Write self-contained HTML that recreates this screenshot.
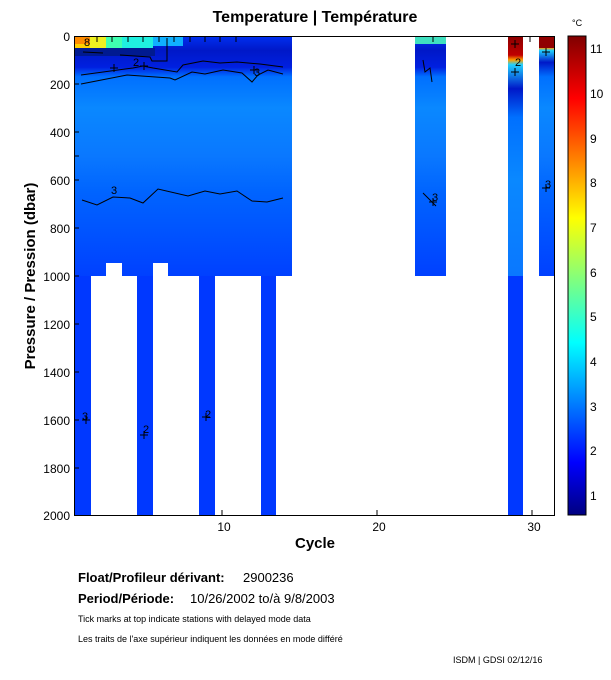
<!DOCTYPE html>
<html><head><meta charset="utf-8"><style>
body{margin:0;background:#fff;width:611px;height:675px;overflow:hidden;font-family:"Liberation Sans",sans-serif}
</style></head><body>
<svg width="611" height="675" xmlns="http://www.w3.org/2000/svg" font-family="Liberation Sans, sans-serif">
<defs>
<linearGradient id="col" x1="0" y1="0" x2="0" y2="1">
<stop offset="0" stop-color="#0030f0"/>
<stop offset="0.06" stop-color="#0018c8"/>
<stop offset="0.13" stop-color="#0020e0"/>
<stop offset="0.17" stop-color="#0070ff"/>
<stop offset="0.3" stop-color="#0a88ff"/>
<stop offset="0.5" stop-color="#0a78ff"/>
<stop offset="0.65" stop-color="#0064ff"/>
<stop offset="0.85" stop-color="#0050ff"/>
<stop offset="1" stop-color="#0040ff"/>
</linearGradient>
<linearGradient id="warm" x1="0" y1="0" x2="0" y2="1">
<stop offset="0" stop-color="#8a0000"/>
<stop offset="0.04" stop-color="#c00000"/>
<stop offset="0.05" stop-color="#ffa000"/>
<stop offset="0.06" stop-color="#20d0ff"/>
<stop offset="0.11" stop-color="#0018c8"/>
<stop offset="0.17" stop-color="#0070ff"/>
<stop offset="0.3" stop-color="#0a88ff"/>
<stop offset="0.5" stop-color="#0a78ff"/>
<stop offset="0.65" stop-color="#0064ff"/>
<stop offset="1" stop-color="#0040ff"/>
</linearGradient>
<linearGradient id="jet" x1="0" y1="1" x2="0" y2="0">
<stop offset="0" stop-color="#000080"/>
<stop offset="0.11" stop-color="#0000ff"/>
<stop offset="0.36" stop-color="#00ffff"/>
<stop offset="0.62" stop-color="#ffff00"/>
<stop offset="0.87" stop-color="#ff0000"/>
<stop offset="1" stop-color="#800000"/>
</linearGradient>
</defs>
<rect x="75" y="36" width="217" height="240" fill="url(#col)"/>
<rect x="75" y="36" width="15" height="12" fill="#ff8c00"/>
<rect x="75" y="44" width="15" height="4" fill="#ffd000"/>
<rect x="90" y="36" width="16" height="14" fill="#f0f020"/>
<rect x="106" y="36" width="16" height="14" fill="#40ffb0"/>
<rect x="122" y="36" width="31" height="14" fill="#20f0e0"/>
<rect x="153" y="36" width="30" height="10" fill="#10b0ff"/>
<rect x="75" y="48" width="80" height="8" fill="#001a90"/>
<rect x="75" y="276" width="16" height="239" fill="#0038ff"/>
<rect x="137" y="276" width="16" height="239" fill="#0038ff"/>
<rect x="199" y="276" width="16" height="239" fill="#0038ff"/>
<rect x="261" y="276" width="15" height="239" fill="#0038ff"/>
<rect x="106" y="263" width="16" height="13" fill="#fff"/>
<rect x="153" y="263" width="15" height="13" fill="#fff"/>
<rect x="415" y="36" width="31" height="240" fill="url(#col)"/>
<rect x="415" y="36" width="31" height="8" fill="#40e0c0"/>
<rect x="508" y="36" width="15" height="479" fill="url(#warm)"/>
<rect x="508" y="276" width="15" height="239" fill="#0038ff"/>
<rect x="539" y="36" width="15" height="240" fill="url(#warm)"/>
<rect x="539" y="36" width="15" height="12" fill="#900000"/>
<g fill="none" stroke="#000" stroke-width="1">
<polyline points="81,75 133,68 143,66 153,68 177,72 183,65 203,61 220,63 237,62 260,64 283,67"/>
<polyline points="81,84 127,75 170,78 175,80 192,72 205,74 223,70 242,73 252,82 258,75 268,70 283,74"/>
<polyline points="83,52 103,53"/>
<polyline points="120,55 150,57 152,61 167,61 167,38"/>
<polyline points="82,200 97,205 113,197 130,198 143,203 158,189 188,196 205,191 220,194 237,191 252,201 267,202 283,198"/>
<polyline points="423,60 425,72 430,68 432,82"/>
<line x1="423" y1="193" x2="436" y2="206"/>
</g>
<g stroke="#000" stroke-width="1">
<path d="M110,68h8M114,64v8 M140,66h8M144,62v8 M250,70h8M254,66v8 M429,202h8M433,198v8 M511,44h8M515,40v8 M511,72h8M515,68v8 M542,52h8M546,48v8 M542,188h8M546,184v8 M82,420h8M86,416v8 M140,435h8M144,431v8 M202,417h8M206,413v8"/>
</g>
<g font-size="11" fill="#000">
<text x="84" y="46">8</text>
<text x="133" y="66">2</text>
<text x="254" y="76">3</text>
<text x="111" y="194">3</text>
<text x="82" y="420">3</text>
<text x="143" y="433">2</text>
<text x="205" y="418">2</text>
<text x="432" y="201">3</text>
<text x="515" y="66">2</text>
<text x="545" y="188">3</text>
</g>
<g stroke="#000">
<line x1="97" y1="36" x2="97" y2="42"/><line x1="112" y1="36" x2="112" y2="42"/><line x1="128" y1="36" x2="128" y2="42"/>
<line x1="143" y1="36" x2="143" y2="42"/><line x1="159" y1="36" x2="159" y2="42"/><line x1="174" y1="36" x2="174" y2="42"/>
<line x1="190" y1="36" x2="190" y2="42"/><line x1="205" y1="36" x2="205" y2="42"/><line x1="220" y1="36" x2="220" y2="42"/>
<line x1="236" y1="36" x2="236" y2="42"/><line x1="433" y1="36" x2="433" y2="42"/><line x1="530" y1="36" x2="530" y2="42"/>
</g>
<g stroke="#000" stroke-width="1" fill="none">
<polyline points="74.5,36 74.5,515.5 555,515.5"/>
<line x1="74.5" y1="36.5" x2="555" y2="36.5"/>
<line x1="554.5" y1="36" x2="554.5" y2="515"/>
<line x1="74" y1="156" x2="79" y2="156"/><line x1="74" y1="276" x2="79" y2="276"/>
<line x1="74" y1="84" x2="79" y2="84"/><line x1="74" y1="132" x2="79" y2="132"/><line x1="74" y1="180" x2="79" y2="180"/>
<line x1="74" y1="228" x2="79" y2="228"/><line x1="74" y1="324" x2="79" y2="324"/><line x1="74" y1="372" x2="79" y2="372"/>
<line x1="74" y1="420" x2="79" y2="420"/><line x1="74" y1="468" x2="79" y2="468"/>
<line x1="222" y1="515" x2="222" y2="510"/><line x1="377" y1="515" x2="377" y2="510"/><line x1="532" y1="515" x2="532" y2="510"/>
</g>
<g font-size="12" fill="#000" text-anchor="end">
<text x="70" y="41">0</text><text x="70" y="89">200</text><text x="70" y="137">400</text><text x="70" y="185">600</text>
<text x="70" y="233">800</text><text x="70" y="281">1000</text><text x="70" y="329">1200</text><text x="70" y="377">1400</text>
<text x="70" y="425">1600</text><text x="70" y="473">1800</text><text x="70" y="520">2000</text>
</g>
<g font-size="12" fill="#000" text-anchor="middle">
<text x="224" y="531">10</text><text x="379" y="531">20</text><text x="534" y="531">30</text>
</g>
<text x="315" y="548" font-size="15" font-weight="bold" text-anchor="middle">Cycle</text>
<text x="315" y="22" font-size="16" font-weight="bold" text-anchor="middle">Temperature | Température</text>
<text transform="translate(35,276) rotate(-90)" font-size="15" font-weight="bold" text-anchor="middle">Pressure / Pression (dbar)</text>
<rect x="568" y="36" width="18" height="479" fill="url(#jet)" stroke="#000"/>
<g font-size="12" fill="#000">
<text x="590" y="53">11</text><text x="590" y="98">10</text><text x="590" y="143">9</text><text x="590" y="187">8</text>
<text x="590" y="232">7</text><text x="590" y="277">6</text><text x="590" y="321">5</text><text x="590" y="366">4</text>
<text x="590" y="411">3</text><text x="590" y="455">2</text><text x="590" y="500">1</text>
</g>
<text x="572" y="26" font-size="9">°C</text>
<text x="78" y="582" font-size="13" font-weight="bold">Float/Profileur dérivant:</text>
<text x="243" y="582" font-size="13">2900236</text>
<text x="78" y="603" font-size="13" font-weight="bold">Period/Période:</text>
<text x="190" y="603" font-size="13">10/26/2002  to/à  9/8/2003</text>
<text x="78" y="622" font-size="9">Tick marks at top indicate stations with delayed mode data</text>
<text x="78" y="642" font-size="9">Les traits de l'axe supérieur indiquent les données en mode différé</text>
<text x="453" y="663" font-size="9">ISDM | GDSI  02/12/16</text>
</svg>
</body></html>
